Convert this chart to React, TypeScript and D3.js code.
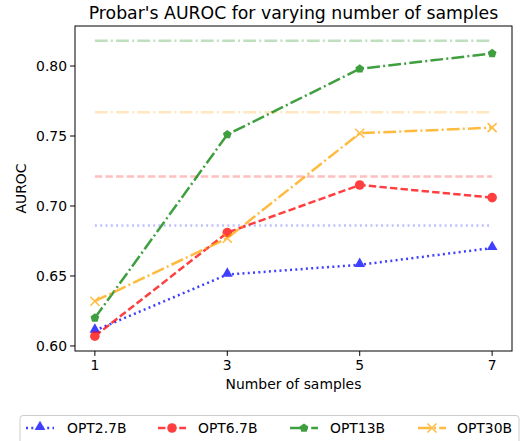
import * as d3 from 'd3'

const samples = [1, 3, 5, 7]
const models = ['OPT2.7B', 'OPT6.7B', 'OPT13B', 'OPT30B']
const opt27 = [0.611, 0.651, 0.658, 0.670]
const opt67 = [0.607, 0.681, 0.715, 0.706]
const opt13 = [0.620, 0.751, 0.798, 0.809]
const opt30 = [0.632, 0.677, 0.752, 0.756]
const baselines = [0.686, 0.721, 0.818, 0.767]
const yTicks = [0.60, 0.65, 0.70, 0.75, 0.80]

const styles = [
  { color: 'rgb(0,0,255)', dash: '2,3.3', marker: 'triangle' },
  { color: 'rgb(255,0,0)', dash: '7.4,3.2', marker: 'circle' },
  { color: 'rgb(0,128,0)', dash: '12.8,3.2,2,3.2', marker: 'pentagon' },
  { color: 'rgb(255,165,0)', dash: '12.8,3.2,2,3.2', marker: 'x' },
]

const W = 529, H = 441
const left = 75, right = 512, top = 26, bottom = 351
const font = 'DejaVu Sans, sans-serif'

function Marker({ kind, x, y, color }: { kind: string; x: number; y: number; color: string }) {
  if (kind === 'triangle') {
    const s = d3.symbol(d3.symbolTriangle, 50)()
    return <path d={s || ''} transform={`translate(${x},${y - 1})`} fill={color} />
  }
  if (kind === 'circle') return <circle cx={x} cy={y} r={4.8} fill={color} />
  if (kind === 'pentagon') {
    const pts = d3.range(5).map(i => {
      const a = -Math.PI / 2 + (i * 2 * Math.PI) / 5
      return [x + 4.6 * Math.cos(a), y + 4.6 * Math.sin(a)].join(',')
    })
    return <polygon points={pts.join(' ')} fill={color} />
  }
  const r = 4.5
  return (
    <g stroke={color} strokeWidth={1.5}>
      <line x1={x - r} y1={y - r} x2={x + r} y2={y + r} />
      <line x1={x - r} y1={y + r} x2={x + r} y2={y - r} />
    </g>
  )
}

export default function App() {
  const series = [opt27, opt67, opt13, opt30]
  const x = d3.scaleLinear().domain([0.7, 7.3]).range([left, right])
  const y = d3.scaleLinear().domain([0.5964, 0.8286]).range([bottom, top])
  const line = d3.line<number>().x((_, i) => x(samples[i])).y(d => y(d))

  const legendX = [26, 158, 290, 418]
  const legendTextX = [67, 198, 330, 457]

  return (
    <svg width={W} height={H} style={{ position: 'absolute', left: 0, top: 0 }} fontFamily={font}>
      <rect width={W} height={H} fill="white" />
      <text x={(left + right) / 2} y={19} textAnchor="middle" fontSize={17.3}>
        Probar's AUROC for varying number of samples
      </text>

      {baselines.map((b, i) => (
        <line key={'b' + i} x1={x(1)} x2={x(7)} y1={y(b)} y2={y(b)}
          stroke={styles[i].color} strokeOpacity={0.25} strokeWidth={2.5}
          strokeDasharray={styles[i].dash} />
      ))}

      {series.map((s, i) => (
        <g key={'s' + i} opacity={0.75}>
          <path d={line(s) || ''} fill="none" stroke={styles[i].color} strokeWidth={2.5}
            strokeDasharray={styles[i].dash} />
          {s.map((v, j) => (
            <Marker key={j} kind={styles[i].marker} x={x(samples[j])} y={y(v)} color={styles[i].color} />
          ))}
        </g>
      ))}

      <rect x={left} y={top} width={right - left} height={bottom - top} fill="none" stroke="black" strokeWidth={1} />

      {samples.map(s => (
        <g key={'xt' + s}>
          <line x1={x(s)} x2={x(s)} y1={bottom} y2={bottom + 4.9} stroke="black" />
          <text x={x(s)} y={bottom + 19} textAnchor="middle" fontSize={13.9}>{s}</text>
        </g>
      ))}
      {yTicks.map(t => (
        <g key={'yt' + t}>
          <line x1={left - 4.9} x2={left} y1={y(t)} y2={y(t)} stroke="black" />
          <text x={left - 8} y={y(t) + 5} textAnchor="end" fontSize={13.9}>{t.toFixed(2)}</text>
        </g>
      ))}
      <text x={(left + right) / 2} y={389} textAnchor="middle" fontSize={13.9}>Number of samples</text>
      <text transform={`translate(26,${(top + bottom) / 2}) rotate(-90)`} textAnchor="middle" fontSize={13.9}>AUROC</text>

      <rect x={20} y={415.5} width={499} height={40} rx={3} fill="white" stroke="#cccccc" />
      {models.map((m, i) => (
        <g key={'lg' + m}>
          <g opacity={0.75}>
            <line x1={legendX[i]} x2={legendX[i] + 28} y1={428} y2={428} stroke={styles[i].color}
              strokeWidth={2.5} strokeDasharray={styles[i].dash} />
            <Marker kind={styles[i].marker} x={legendX[i] + 14} y={428} color={styles[i].color} />
          </g>
          <text x={legendTextX[i]} y={433} fontSize={13.9}>{m}</text>
        </g>
      ))}
    </svg>
  )
}
